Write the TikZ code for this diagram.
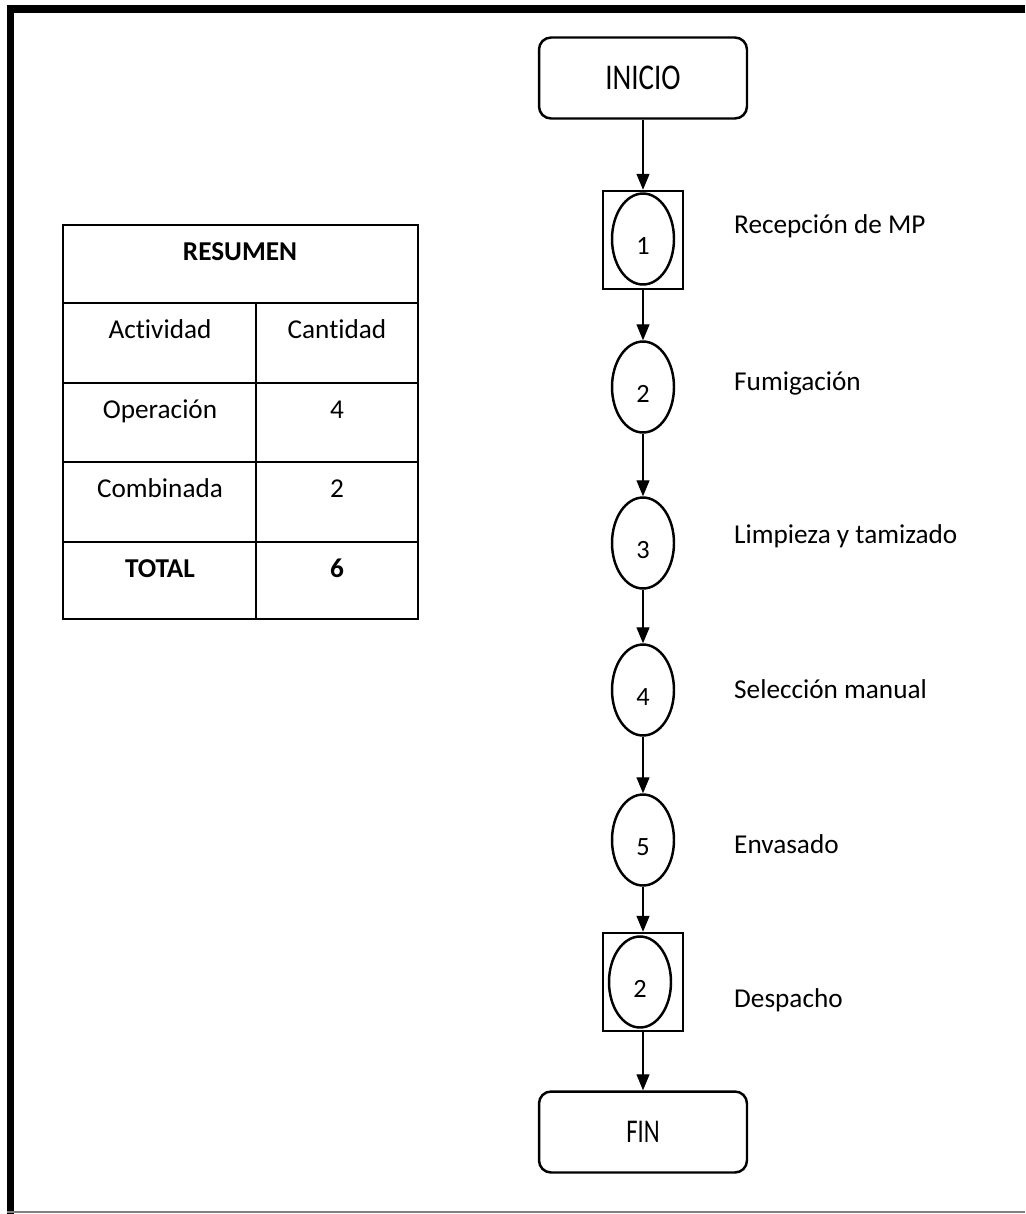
\documentclass[tikz,border=0pt]{standalone}
\usepackage{fontspec}
\usepackage{graphicx}
\setmainfont{Carlito}[Ligatures=CommonOff]
\usetikzlibrary{positioning,arrows.meta,shapes.geometric}

\begin{document}
\begin{tikzpicture}[x=0.02cm,y=-0.02cm,
    term/.style={draw, rounded corners=0.24cm, line width=1.4pt,
                 minimum width=4.16cm, minimum height=1.62cm},
    oper/.style={draw, ellipse, line width=1.4pt, inner sep=0pt,
                 minimum width=1.24cm, minimum height=1.82cm,
                 text height=0.63cm, text depth=0pt,
                 font=\fontsize{15}{18}\selectfont},
    combo/.style={draw, line width=1.4pt, inner sep=0pt,
                  minimum width=1.6cm, minimum height=1.96cm},
    stepname/.style={anchor=base west, font=\fontsize{15.5}{18}\selectfont},
    cell/.style={anchor=base, font=\fontsize{15.5}{18}\selectfont},
    flow/.style={-{Triangle[width=0.26cm,length=0.32cm]}, line width=0.75pt},
]
\useasboundingbox (0,0) rectangle (1025,1214);

% frame
\draw[line width=0.16cm] (7,9) -- (1025,9);
\draw[line width=0.14cm] (10.5,5) -- (10.5,1214);
\draw[gray, line width=0.8pt] (7,1212) -- (1025,1212);

% resumen table
\draw[line width=1.1pt] (63,225) rectangle (418,619);
\draw[line width=1.1pt] (63,303) -- (418,303)
                        (63,383) -- (418,383)
                        (63,462) -- (418,462)
                        (63,542) -- (418,542)
                        (256,303) -- (256,619);
\node[cell] (resumen) at (240,260) {\textbf{RESUMEN}};
\node[cell] (act) at (160,338) {Actividad};
\node[cell] (cant) at (337,338) {Cantidad};
\node[cell] (oplab) at (160,418) {Operación};
\node[cell] (opnum) at (337,418) {4};
\node[cell] (comblab) at (160,497) {Combinada};
\node[cell] (combnum) at (337,497) {2};
\node[cell] (totlab) at (160,577) {\textbf{TOTAL}};
\node[cell] (totnum) at (337,577) {\textbf{6}};

% process chart
\node[term] (ini) at (643,78)
    {\fontsize{16.5}{20}\selectfont\scalebox{1}[1.25]{INICIO}};
\node[combo] (b1) at (643,240) {};
\node[oper] (c1) at (643,239) {1};
\node[oper] (c2) at (643,387) {2};
\node[oper] (c3) at (643,543) {3};
\node[oper] (c4) at (643,690) {4};
\node[oper] (c5) at (643,840) {5};
\node[combo] (b6) at (643,982) {};
\node[oper] (c6) at (640,982) {2};
\node[term] (fin) at (643,1132)
    {\fontsize{14}{17}\selectfont\scalebox{1}[1.35]{FIN}};

\draw[flow] (ini) -- (b1);
\draw[flow] (b1) -- (c2);
\draw[flow] (c2) -- (c3);
\draw[flow] (c3) -- (c4);
\draw[flow] (c4) -- (c5);
\draw[flow] (c5) -- (b6);
\draw[flow] (b6) -- (fin);

\node[stepname] (s1) at (728,233) {Recepción de MP};
\node[stepname] (s2) at (728,390) {Fumigación};
\node[stepname] (s3) at (728,543) {Limpieza y tamizado};
\node[stepname] (s4) at (728,698) {Selección manual};
\node[stepname] (s5) at (728,853) {Envasado};
\node[stepname] (s6) at (728,1007) {Despacho};
\end{tikzpicture}
\end{document}
